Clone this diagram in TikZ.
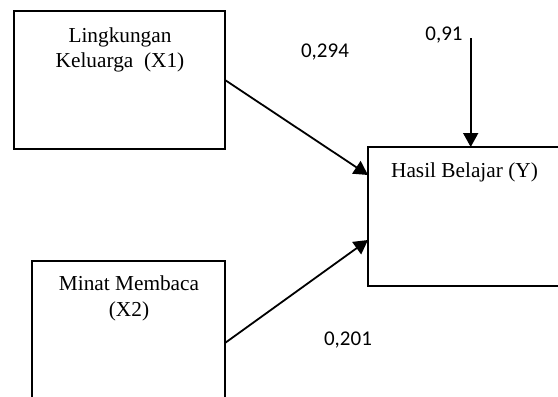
\documentclass[tikz,border=0pt]{standalone}
\usepackage{fontspec}
\setmainfont{Liberation Serif}
\newfontfamily\calibrifont{Carlito}
\usetikzlibrary{arrows.meta}
\begin{document}
\begin{tikzpicture}[x=1pt,y=-1pt,
  box/.style={draw, line width=1.8pt, inner sep=0pt, outer sep=0pt, anchor=north west},
  boxtext/.style={inner sep=0pt, align=center, anchor=north, font=\fontsize{21.3}{25.5}\selectfont},
  coef/.style={inner sep=0pt, font=\calibrifont\fontsize{21}{25}\selectfont},
  link/.style={line width=1.8pt, -{Triangle[length=14pt,width=15pt]}}]
\useasboundingbox (0,0) rectangle (558,397);
\clip (0,0) rectangle (558,397);
\node[box, minimum width=211pt, minimum height=138pt] (x1) at (14,11) {};
\node[box, minimum width=193pt, minimum height=164pt] (x2) at (32,261) {};
\node[box, minimum width=230pt, minimum height=139pt] (y) at (368,147) {};
\node[boxtext] (x1t) at (120,27.5) {Lingkungan\\Keluarga\ \ (X1)};
\node[boxtext] (x2t) at (129,276) {Minat Membaca\\(X2)};
\node[boxtext] (yt) at (464.5,162.5) {Hasil Belajar (Y)};
\coordinate (e) at (470.7,38);
\draw[link] (x1.east) -- ([yshift=-28pt]y.north west);
\draw[link] (x2.east) -- ([yshift=-93pt]y.north west);
\draw[link] (e) -- (e |- y.north);
\node[coef] (c1) at (325,52) {0,294};
\node[coef] (c2) at (444,35) {0,91};
\node[coef] (c3) at (348,340) {0,201};
\end{tikzpicture}
\end{document}
